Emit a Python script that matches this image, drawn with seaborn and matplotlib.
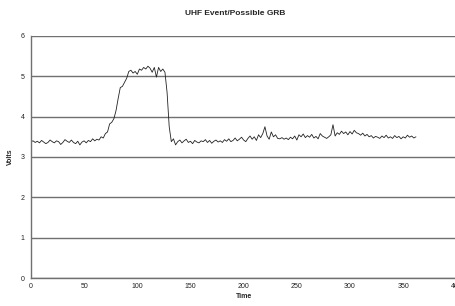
import matplotlib
matplotlib.use("Agg")
import matplotlib.pyplot as plt
import numpy as np
import pandas as pd
import seaborn as sns

time = np.arange(0, 363, 2)
volts = [
    3.38, 3.40, 3.36, 3.39, 3.35, 3.41, 3.37, 3.33, 3.36, 3.42,
    3.38, 3.35, 3.40, 3.38, 3.31, 3.36, 3.43, 3.39, 3.36, 3.42,
    3.36, 3.33, 3.39, 3.30, 3.37, 3.40, 3.35, 3.41, 3.38, 3.45,
    3.40, 3.44, 3.42, 3.50, 3.47, 3.58, 3.62, 3.82, 3.86, 3.95,
    4.15, 4.45, 4.72, 4.75, 4.85, 4.95, 5.12, 5.15, 5.08, 5.12,
    5.05, 5.18, 5.15, 5.22, 5.18, 5.25, 5.20, 5.10, 5.22, 4.98,
    5.22, 5.12, 5.18, 5.10, 4.60, 3.75, 3.38, 3.45, 3.30, 3.38,
    3.42, 3.35, 3.40, 3.44, 3.36, 3.39, 3.33, 3.41, 3.37, 3.35,
    3.40, 3.38, 3.43, 3.36, 3.41, 3.34, 3.39, 3.42, 3.37, 3.40,
    3.36, 3.43, 3.39, 3.45, 3.38, 3.41, 3.47, 3.40, 3.44, 3.49,
    3.42, 3.38, 3.46, 3.52, 3.44, 3.50, 3.41, 3.55, 3.48, 3.58,
    3.75, 3.52, 3.44, 3.62, 3.50, 3.55, 3.46, 3.45, 3.48, 3.44,
    3.47, 3.43, 3.49, 3.45, 3.52, 3.42, 3.55, 3.50, 3.57, 3.48,
    3.53, 3.49, 3.56, 3.47, 3.51, 3.45, 3.58, 3.52, 3.49, 3.46,
    3.50, 3.55, 3.80, 3.52, 3.60, 3.56, 3.64, 3.58, 3.62, 3.55,
    3.63, 3.57, 3.66, 3.60, 3.58, 3.54, 3.59, 3.52, 3.56, 3.50,
    3.53, 3.47, 3.51, 3.49, 3.46, 3.52, 3.48, 3.54, 3.47, 3.50,
    3.46, 3.53, 3.48, 3.51, 3.45, 3.50, 3.47, 3.54, 3.49, 3.52,
    3.47, 3.50,
]
x_ticks = [0, 50, 100, 150, 200, 250, 300, 350, 400]
y_ticks = [0, 1, 2, 3, 4, 5, 6]

df = pd.DataFrame({"Time": time, "Volts": volts})

sns.set_style("white")
plt.rcParams["font.family"] = ["Liberation Sans", "DejaVu Sans"]

fig = plt.figure(figsize=(4.55, 3.06), dpi=100)
ax = fig.add_axes([0.068, 0.0915, 0.935, 0.791])

sns.lineplot(data=df, x="Time", y="Volts", ax=ax, color="#222222", linewidth=0.6)

ax.set_xlim(0, 400)
ax.set_ylim(0, 6)
ax.set_xticks(x_ticks)
ax.set_yticks(y_ticks)
ax.tick_params(axis="both", labelsize=5, colors="#707070", labelcolor="#222222",
               length=2.5, width=0.6, pad=2)
ax.tick_params(axis="x", direction="inout", length=3)
ax.yaxis.grid(True, color="#707070", linewidth=1.0)
ax.set_axisbelow(True)

for side in ["top", "right"]:
    ax.spines[side].set_visible(False)
for side in ["left", "bottom"]:
    ax.spines[side].set_color("#707070")
    ax.spines[side].set_linewidth(1.0)

ax.set_xlabel("Time", fontsize=5, fontweight="bold", labelpad=2)
ax.set_ylabel("Volts", fontsize=5, fontweight="bold", labelpad=5)

fig.text(0.516, 0.955, "UHF Event/Possible GRB", fontsize=6, fontweight="bold",
         ha="center", va="center")

fig.savefig("out.png", dpi=100)
plt.close(fig)
